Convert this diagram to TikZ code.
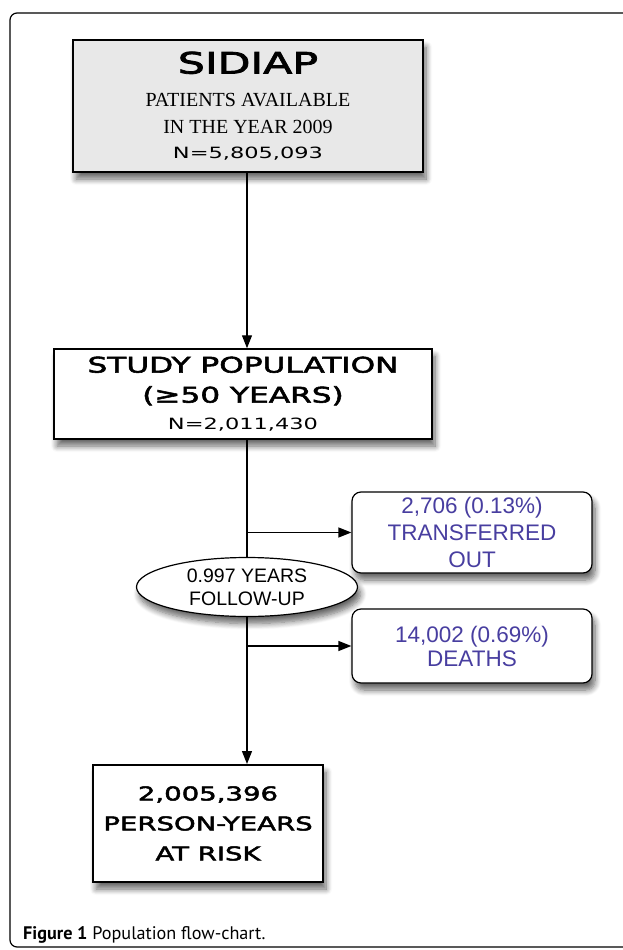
\documentclass[tikz,border=0pt]{standalone}
\usepackage{fontspec}
\setmainfont{Liberation Serif}
\newfontfamily\cgfont{DejaVu Sans}[FakeStretch=1.45]
\newfontfamily\cgbold{DejaVu Sans}[FakeStretch=1.45,FakeBold=2.6]
\newfontfamily\hfont{Liberation Sans}
\newfontfamily\capfont{PT Sans}
\usetikzlibrary{arrows.meta,positioning,shapes.geometric,shadows.blur}
\definecolor{noteblue}{RGB}{72,62,160}
\tikzset{
  shade/.style={blur shadow={shadow xshift=3pt,shadow yshift=-7pt,shadow blur steps=8,shadow blur radius=6pt,shadow opacity=60}},
  topbox/.style={draw,line width=2.8pt,fill=black!9,align=center,inner sep=0pt,shade},
  stepbox/.style={draw,line width=1.5pt,fill=white,align=center,inner sep=0pt,shade},
  notebox/.style={draw,line width=1.2pt,rounded corners=9pt,fill=white,align=center,inner sep=0pt,minimum width=240pt,text=noteblue,shade},
  fubox/.style={ellipse,draw,line width=1.2pt,fill=white,align=center,inner sep=0pt,minimum width=221pt,minimum height=59pt,font=\hfont\fontsize{19.5}{23}\selectfont,shade},
  arr/.style={-{Triangle[length=13pt,width=10pt]},line width=1.3pt},
}
\begin{document}
\begin{tikzpicture}[x=1pt,y=-1pt]
\useasboundingbox (0,0) rectangle (622,950);
\draw[line width=1.2pt,rounded corners=7pt] (10,13) rectangle (660,947);
\coordinate (spine) at (247,0);
% boxes
\node[topbox,minimum width=350pt,minimum height=132pt,font=\fontsize{20}{26}\selectfont] (sidiap) at (248,106)
  {{\cgbold\fontsize{29.5}{33}\selectfont SIDIAP}\\[7pt]
   PATIENTS AVAILABLE\\[1pt] IN THE YEAR 2009\\[-1pt]
   {\cgfont\fontsize{15.5}{18}\selectfont N=5,805,093}};
\node[stepbox,minimum width=378pt,minimum height=90pt,font=\cgbold\fontsize{21.5}{27}\selectfont] (study) at (243,394)
  {STUDY POPULATION\\[3pt] (≥50 YEARS)\\
   {\cgfont\fontsize{15.5}{18}\selectfont N=2,011,430}};
\node[notebox,minimum height=81pt,font=\hfont\fontsize{22.5}{27}\selectfont] (transfer) at (472,532.5)
  {2,706 (0.13\%)\\ TRANSFERRED\\ OUT};
\node[fubox] (fu) at (247,587) {0.997 YEARS\\ FOLLOW-UP};
\node[notebox,minimum height=74pt,font=\hfont\fontsize{22.5}{24}\selectfont] (deaths) at (472,646)
  {14,002 (0.69\%)\\ DEATHS};
\node[stepbox,line width=2pt,minimum width=230pt,minimum height=117pt,font=\cgbold\fontsize{19}{30}\selectfont] (result) at (208,823.5)
  {2,005,396\\ PERSON-YEARS\\ AT RISK};
% connectors
\draw[arr] (spine |- sidiap.south) -- (spine |- study.north);
\draw[line width=1.3pt] (spine |- study.south) -- (fu.north);
\draw[arr] (fu.south) -- (fu.south |- result.north);
\draw[arr] (spine |- transfer.west) -- (transfer.west);
\draw[arr] (spine |- deaths.west) -- (deaths.west);
\node[anchor=base west,inner sep=0pt,font=\capfont\fontsize{18.2}{22}\selectfont] (caption) at (23,939)
  {\textbf{Figure 1} Population flow-chart.};
\end{tikzpicture}
\end{document}
